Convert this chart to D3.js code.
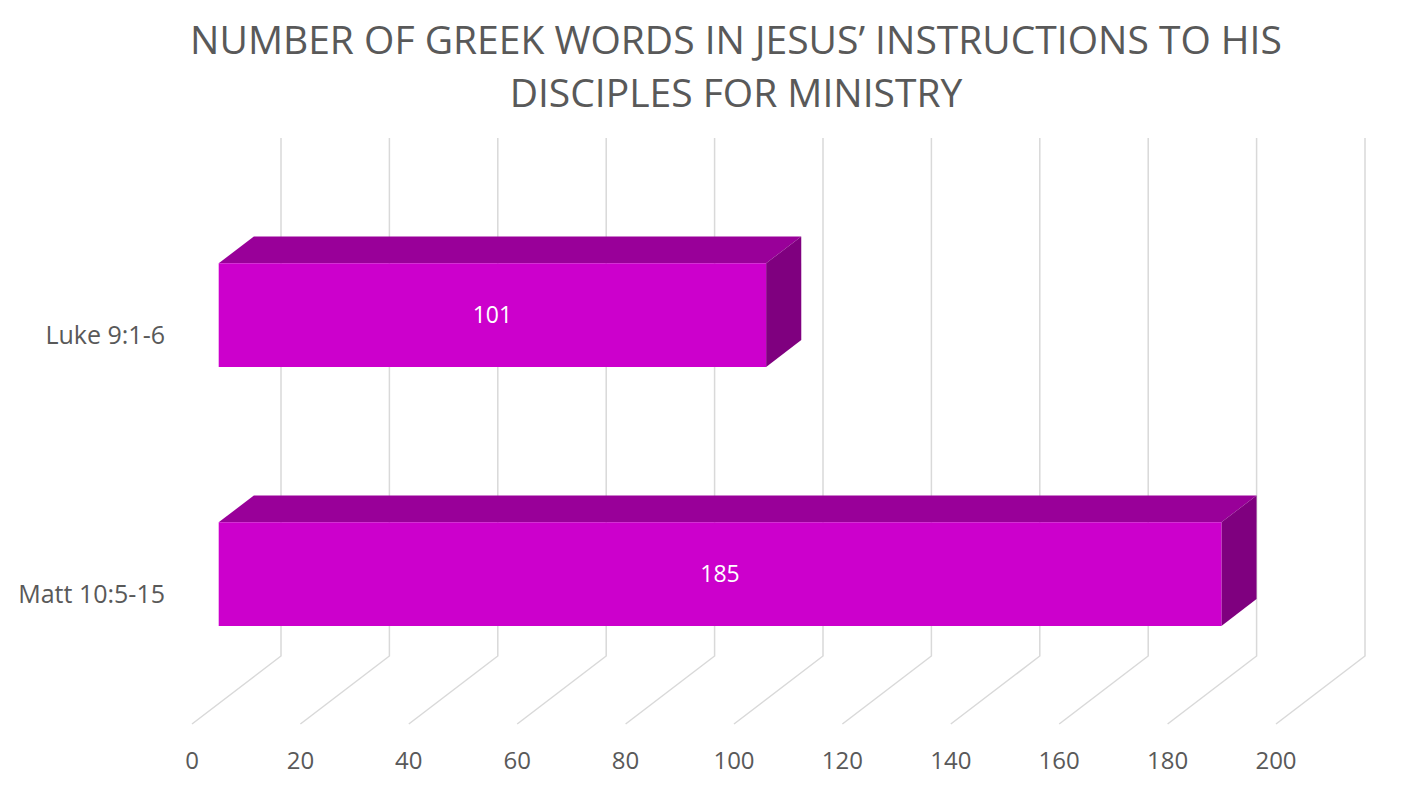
<!DOCTYPE html>
<html>
<head>
<meta charset="utf-8">
<script src="https://cdnjs.cloudflare.com/ajax/libs/d3/7.8.5/d3.min.js"></script>
<style>
  body { margin: 0; background: #fff; }
  svg { display: block; }
</style>
</head>
<body>
<svg id="chart"></svg>
<script>
var width = 1409, height = 799;

// data
var titleLines = ["NUMBER OF GREEK WORDS IN JESUS\u2019 INSTRUCTIONS TO HIS", "DISCIPLES FOR MINISTRY"];
var categories = ["Luke 9:1-6", "Matt 10:5-15"];
var values = [101, 185];
var ticks = [0, 20, 40, 60, 80, 100, 120, 140, 160, 180, 200];

var textColor = "#595959";
var gridColor = "#d9d9d9";
var frontColor = "#cc00cc", topColor = "#990099", sideColor = "#7f007f";
var fontFam = "'Open Sans', 'Noto Sans', sans-serif";

// oblique 3d: depth 0 = front plane, depth 1 = back wall
var depthDx = 89, depthDy = -68;
var barDepth0 = 0.30, barDepth1 = 0.695;

var x = d3.scaleLinear().domain([0, 200]).range([192, 1276]);
var y = d3.scaleBand().domain(categories).range([206, 724])
  .paddingInner(0.6).paddingOuter(0.3);

function pt(v, yy, d) {
  return [x(v) + d * depthDx, yy + d * depthDy];
}

var svg = d3.select("#chart").attr("width", width).attr("height", height);

// title
svg.append("g").selectAll("text")
  .data(titleLines).enter()
  .append("text")
  .attr("x", 736)
  .attr("y", function(d, i) { return 54 + i * 53; })
  .attr("text-anchor", "middle")
  .attr("fill", textColor)
  .style("font-family", fontFam)
  .style("font-size", "39px")
  .text(function(d) { return d; });

// gridlines: vertical on back wall + diagonal on floor
var grid = svg.append("g");
var yTop = y.range()[0], yBot = y.range()[1];
grid.selectAll("path")
  .data(ticks).enter()
  .append("path")
  .attr("fill", "none")
  .attr("stroke", gridColor)
  .attr("stroke-width", 1.5)
  .attr("d", function(t) {
    var a = pt(t, yTop, 1), b = pt(t, yBot, 1), c = pt(t, yBot, 0);
    return "M" + a + "L" + b + "L" + c;
  });

// bars
var bars = svg.append("g").selectAll("g")
  .data(categories).enter()
  .append("g");

function poly(ps) { return "M" + ps.join("L") + "Z"; }

bars.append("path")
  .attr("fill", topColor)
  .attr("d", function(d, i) {
    var t = y(d);
    return poly([pt(0, t, barDepth0), pt(values[i], t, barDepth0), pt(values[i], t, barDepth1), pt(0, t, barDepth1)]);
  });

bars.append("path")
  .attr("fill", sideColor)
  .attr("d", function(d, i) {
    var t = y(d), b = y(d) + y.bandwidth();
    return poly([pt(values[i], t, barDepth0), pt(values[i], t, barDepth1), pt(values[i], b, barDepth1), pt(values[i], b, barDepth0)]);
  });

bars.append("path")
  .attr("fill", frontColor)
  .attr("d", function(d, i) {
    var t = y(d), b = y(d) + y.bandwidth();
    return poly([pt(0, t, barDepth0), pt(values[i], t, barDepth0), pt(values[i], b, barDepth0), pt(0, b, barDepth0)]);
  });

// data labels
bars.append("text")
  .attr("x", function(d, i) { return (pt(0, 0, barDepth0)[0] + pt(values[i], 0, barDepth0)[0]) / 2; })
  .attr("y", function(d) { return pt(0, y(d) + y.bandwidth() / 2, barDepth0)[1] + 8; })
  .attr("text-anchor", "middle")
  .attr("fill", "#ffffff")
  .style("font-family", fontFam)
  .style("font-size", "23px")
  .text(function(d, i) { return values[i]; });

// category labels
svg.append("g").selectAll("text")
  .data(categories).enter()
  .append("text")
  .attr("x", 165)
  .attr("y", function(d) { return y(d) + y.bandwidth() / 2 + 8; })
  .attr("text-anchor", "end")
  .attr("fill", textColor)
  .style("font-family", fontFam)
  .style("font-size", "25px")
  .text(function(d) { return d; });

// value axis labels
svg.append("g").selectAll("text")
  .data(ticks).enter()
  .append("text")
  .attr("x", function(t) { return x(t); })
  .attr("y", 769)
  .attr("text-anchor", "middle")
  .attr("fill", textColor)
  .style("font-family", fontFam)
  .style("font-size", "24px")
  .text(function(t) { return t; });
</script>
</body>
</html>
